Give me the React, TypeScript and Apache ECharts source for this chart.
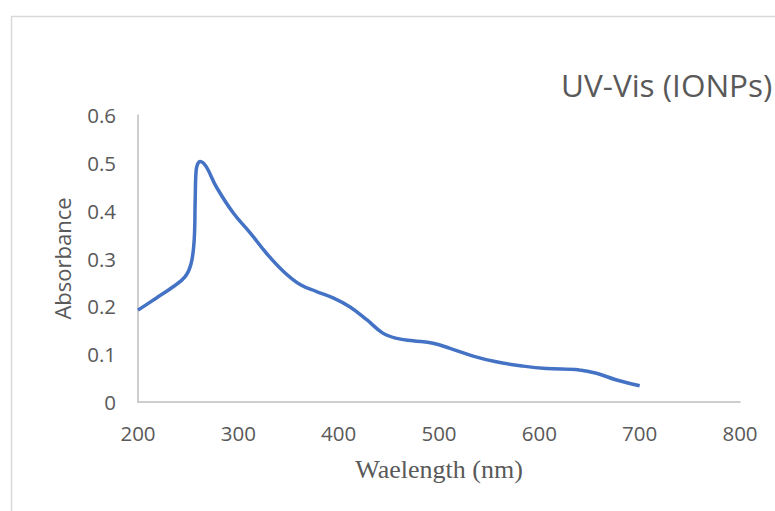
import React, { useEffect, useRef } from "react";
import * as echarts from "echarts";

const wavelengths = [200, 218, 235, 247, 253, 256, 257, 258, 262, 268, 278, 295, 312, 328, 345, 362, 378, 395, 411, 428, 444, 458, 474, 494, 511, 534, 557, 584, 607, 640, 657, 677, 700];
const absorbance = [0.192, 0.217, 0.241, 0.262, 0.29, 0.339, 0.423, 0.485, 0.503, 0.492, 0.45, 0.395, 0.353, 0.311, 0.273, 0.245, 0.231, 0.217, 0.199, 0.172, 0.144, 0.133, 0.128, 0.123, 0.112, 0.096, 0.084, 0.075, 0.07, 0.067, 0.06, 0.046, 0.034];
const chartTitle = "UV-Vis (IONPs)";
const xTitle = "Waelength (nm)";
const yTitle = "Absorbance";

export default function App() {
  const ref = useRef<HTMLDivElement>(null);
  useEffect(() => {
    if (!ref.current) return;
    const chart = echarts.init(ref.current, undefined, { renderer: "svg" });
    const labelColor = "#595959";
    chart.setOption({
      animation: false,
      backgroundColor: "#ffffff",
      graphic: [
        {
          type: "rect",
          shape: { x: 11.5, y: 16.5, width: 900, height: 700 },
          style: { fill: "none", stroke: "#d9d9d9", lineWidth: 1.5 },
          silent: true,
        },
      ],
      title: {
        text: chartTitle,
        left: 556,
        top: 63,
        textStyle: { fontFamily: "Open Sans", fontSize: 31.5, fontWeight: "normal", color: labelColor },
      },
      grid: { left: 138, top: 115, right: 35, bottom: 109 },
      xAxis: {
        type: "value",
        min: 200,
        max: 800,
        interval: 100,
        name: xTitle,
        nameLocation: "middle",
        nameGap: 54,
        nameTextStyle: { fontFamily: "Liberation Serif", fontSize: 26, color: labelColor },
        axisLine: { show: true, lineStyle: { color: "#bfbfbf", width: 1.5 } },
        axisTick: { show: false },
        splitLine: { show: false },
        axisLabel: { fontFamily: "Open Sans", fontSize: 20.5, color: labelColor, margin: 20 },
      },
      yAxis: {
        type: "value",
        min: 0,
        max: 0.6,
        interval: 0.1,
        name: yTitle,
        nameLocation: "middle",
        nameGap: 65,
        nameTextStyle: { fontFamily: "Open Sans", fontSize: 22, color: labelColor },
        axisLine: { show: true, lineStyle: { color: "#bfbfbf", width: 1.5 } },
        axisTick: { show: false },
        splitLine: { show: false },
        axisLabel: { fontFamily: "Open Sans", fontSize: 20.5, color: labelColor, margin: 22 },
      },
      series: [
        {
          type: "line",
          data: wavelengths.map((w, i) => [w, absorbance[i]]),
          smooth: 0.4,
          showSymbol: false,
          lineStyle: { color: "#4472C4", width: 3.5 },
        },
      ],
    });
    return () => chart.dispose();
  }, []);
  return (
    <div
      ref={ref}
      style={{ position: "fixed", left: 0, top: 0, width: 775, height: 511 }}
    />
  );
}
